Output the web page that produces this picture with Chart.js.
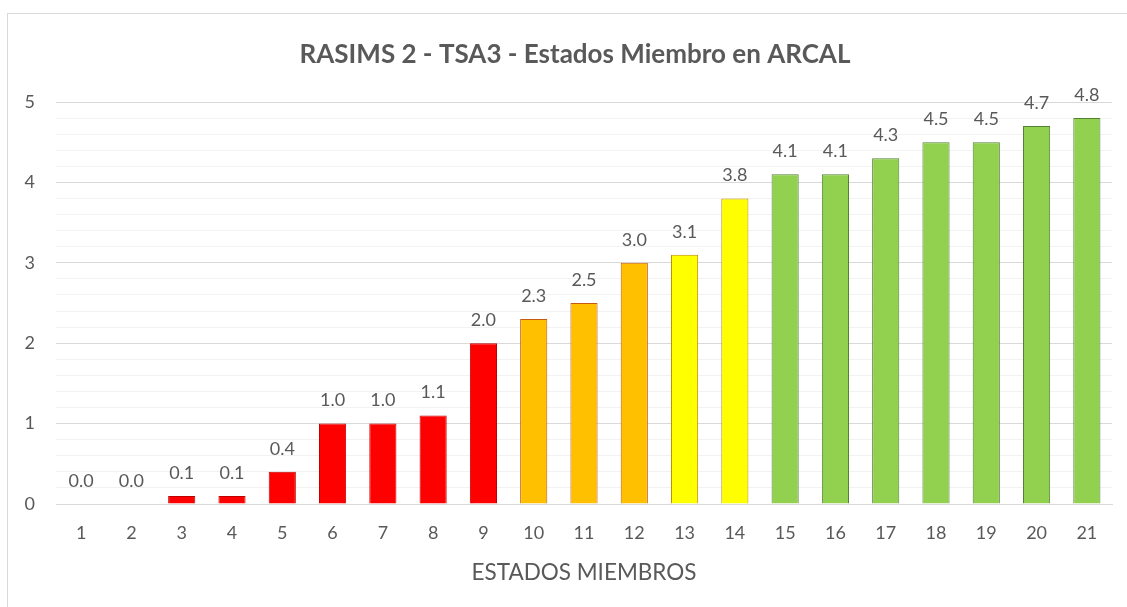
<!DOCTYPE html>
<html>
<head>
<meta charset="utf-8">
<script src="https://cdn.jsdelivr.net/npm/chart.js@4/dist/chart.umd.min.js"></script>
<style>
  html, body { margin: 0; padding: 0; background: #fff; }
  #wrap { position: relative; width: 1127px; height: 607px; }
  #frame { position: absolute; left: 7px; top: 13px; right: 0; bottom: 0; border-left: 1px solid #d9d9d9; border-top: 1px solid #d9d9d9; pointer-events: none; }
  canvas { position: absolute; left: 0; top: 0; }
</style>
</head>
<body>
<div id="wrap">
  <canvas id="c" width="1127" height="607"></canvas>
  <div id="frame"></div>
</div>
<script>
const categories = ['1','2','3','4','5','6','7','8','9','10','11','12','13','14','15','16','17','18','19','20','21'];
const values = [0.0, 0.0, 0.1, 0.1, 0.4, 1.0, 1.0, 1.1, 2.0, 2.3, 2.5, 3.0, 3.1, 3.8, 4.1, 4.1, 4.3, 4.5, 4.5, 4.7, 4.8];
const colorGroup = ['r','r','r','r','r','r','r','r','r','o','o','o','y','y','g','g','g','g','g','g','g'];
const titleText = 'RASIMS 2 - TSA3 - Estados Miembro en ARCAL';
const xTitle = 'ESTADOS MIEMBROS';

const fills = { r: '#FF0000', o: '#FFC000', y: '#FFFF00', g: '#92D050' };
const borders = { r: '#C00000', o: '#C55A11', y: '#BF9000', g: '#548235' };
const FONT = 'Lato, "Open Sans", sans-serif';
const TXT = '#595959';

const labelPlugin = {
  id: 'valueLabels',
  afterDatasetsDraw(chart) {
    const ctx = chart.ctx;
    const meta = chart.getDatasetMeta(0);
    ctx.save();
    ctx.font = '18px ' + FONT;
    ctx.fillStyle = TXT;
    ctx.textAlign = 'center';
    ctx.textBaseline = 'middle';
    meta.data.forEach((bar, i) => {
      ctx.fillText(values[i].toFixed(1), bar.x, bar.y - 23);
    });
    ctx.restore();
  }
};

const titlePlugin = {
  id: 'chartTitle',
  afterDraw(chart) {
    const ctx = chart.ctx;
    ctx.save();
    ctx.font = 'bold 26px ' + FONT;
    ctx.fillStyle = TXT;
    ctx.textAlign = 'center';
    ctx.textBaseline = 'middle';
    ctx.fillText(titleText, 575, 55);
    ctx.restore();
  }
};

const isMajor = v => Math.abs(v - Math.round(v)) < 1e-6;

new Chart(document.getElementById('c'), {
  type: 'bar',
  data: {
    labels: categories,
    datasets: [{
      data: values,
      backgroundColor: colorGroup.map(g => fills[g]),
      borderColor: colorGroup.map(g => borders[g]),
      borderWidth: 1,
      barPercentage: 0.54,
      categoryPercentage: 1.0
    }]
  },
  options: {
    responsive: false,
    animation: false,
    layout: { padding: { left: 0, right: 15, top: 102, bottom: 0 } },
    plugins: {
      legend: { display: false },
      tooltip: { enabled: false },
      title: { display: false }
    },
    scales: {
      x: {
        grid: { display: false, drawTicks: false },
        border: { display: true, color: '#d9d9d9' },
        ticks: { color: TXT, font: { family: FONT, size: 18 }, padding: 18 },
        title: {
          display: true, text: xTitle, color: TXT,
          font: { family: FONT, size: 22.5 },
          padding: { top: 0, bottom: 21 }
        },
        afterFit(scale) { scale.height = 103; }
      },
      y: {
        min: 0, max: 5,
        grid: {
          drawTicks: false,
          color: ctx => isMajor(ctx.tick.value) ? '#d9d9d9' : '#f2f2f2',
          lineWidth: 1
        },
        border: { display: false },
        ticks: {
          stepSize: 0.2,
          autoSkip: false,
          color: TXT,
          font: { family: FONT, size: 18 },
          padding: 21,
          callback: v => isMajor(v) ? String(Math.round(v)) : ''
        },
        afterFit(scale) { scale.width = 56; }
      }
    }
  },
  plugins: [labelPlugin, titlePlugin]
});
</script>
</body>
</html>
